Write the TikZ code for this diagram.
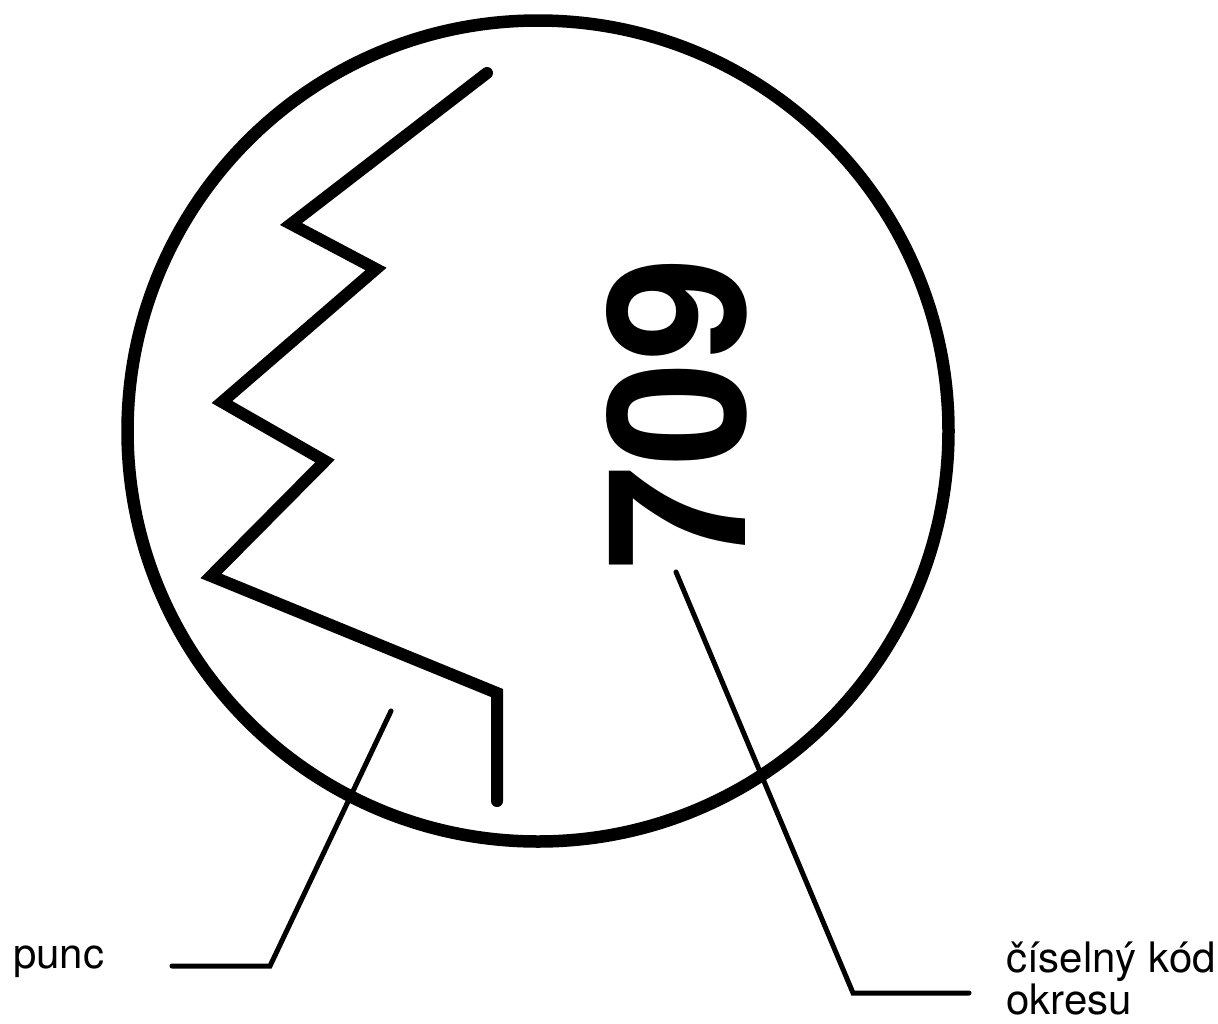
\documentclass[tikz,border=0pt]{standalone}
\usepackage{fontspec}
\setmainfont{TeX Gyre Heros}
\tikzset{
  heavy/.style={draw=black,line width=12pt,line join=miter},
  ring/.style={draw=black,line width=12.5pt},
  leader/.style={draw=black,line width=5pt,line join=miter,line cap=round},
  lbl/.style={inner sep=0pt,font=\fontsize{42}{42}\selectfont,align=left,anchor=north west,text=black}
}
\begin{document}
\begin{tikzpicture}[x=1pt,y=-1pt]
\useasboundingbox (0,0) rectangle (1218,1023);
\fill[white] (0,0) rectangle (1218,1023);
\node[circle,ring,minimum size=821pt,inner sep=0pt,outer sep=0pt] (seal) at (538,431) {};
\coordinate (z0) at (487,73);
\coordinate (z1) at (291,224);
\coordinate (z2) at (376,269);
\coordinate (z3) at (222,402);
\coordinate (z4) at (325,461);
\coordinate (z5) at (211,576);
\coordinate (z6) at (497,693);
\coordinate (z7) at (497,801);
\draw[heavy,line cap=round] (z0)--(z1)--(z2)--(z3)--(z4)--(z5)--(z6)--(z7);
\node[rotate=90,inner sep=0pt,font=\bfseries\fontsize{192}{192}\selectfont] (code) at (677,414) {\scalebox{0.98}[1]{709}};
\node[lbl] (punc) at (13,946) {punc};
\node[lbl] (kod) at (1006,942) {číselný kód\\okresu};
\coordinate (a0) at (391,711);
\coordinate (a1) at (270,966);
\coordinate (a2) at (172,966);
\coordinate (b0) at (676,572);
\coordinate (b1) at (853,993);
\coordinate (b2) at (969,993);
\draw[leader] (a0)--(a1)--(a2);
\draw[leader] (b0)--(b1)--(b2);
\end{tikzpicture}
\end{document}
